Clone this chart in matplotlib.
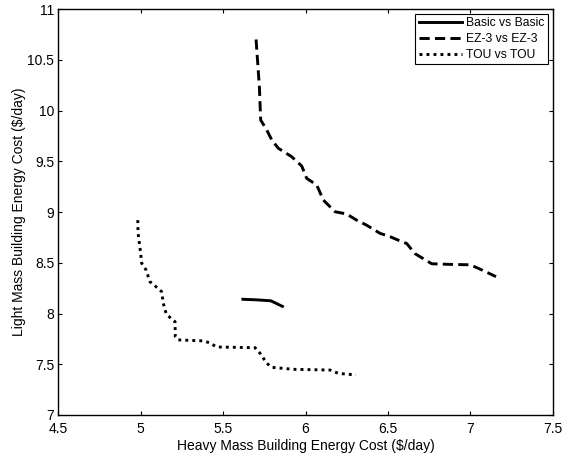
import matplotlib
matplotlib.use('Agg')
import matplotlib.pyplot as plt

plt.rcParams['font.family'] = ['Liberation Sans', 'DejaVu Sans']

# Basic vs Basic
basic_x = [5.62, 5.70, 5.79, 5.86]
basic_y = [8.14, 8.135, 8.125, 8.07]

# EZ-3 vs EZ-3
ez3_x = [5.70, 5.72, 5.728, 5.765, 5.795, 5.835, 5.916, 5.977, 6.007, 6.068,
         6.108, 6.179, 6.25, 6.31, 6.371, 6.452, 6.513, 6.595, 6.614, 6.664,
         6.766, 6.898, 6.998, 7.049, 7.156]
ez3_y = [10.70, 10.235, 9.906, 9.808, 9.71, 9.628, 9.545, 9.453, 9.332, 9.266,
         9.118, 9.003, 8.98, 8.92, 8.87, 8.79, 8.757, 8.70, 8.69, 8.59,
         8.49, 8.483, 8.48, 8.445, 8.363]

# TOU vs TOU
tou_x = [4.982, 4.984, 4.996, 5.006, 5.032, 5.056, 5.097, 5.127, 5.137, 5.154,
         5.184, 5.208, 5.21, 5.228, 5.38, 5.42, 5.46, 5.694, 5.724, 5.765,
         5.795, 5.926, 6.149, 6.20, 6.306]
tou_y = [8.92, 8.79, 8.642, 8.495, 8.43, 8.313, 8.258, 8.215, 8.10, 8.00,
         7.95, 7.92, 7.77, 7.74, 7.73, 7.71, 7.67, 7.663, 7.608, 7.51,
         7.47, 7.45, 7.443, 7.41, 7.394]

fig = plt.figure(figsize=(5.63, 4.58), dpi=100)
ax = fig.add_axes([0.1036, 0.0939, 0.8781, 0.8864])

lw = 2.1
ax.plot(basic_x, basic_y, color='black', linewidth=lw, linestyle='-',
        label='Basic vs Basic')
ax.plot(ez3_x, ez3_y, color='black', linewidth=lw, linestyle=(0, (3.5, 1.8)),
        dash_capstyle='butt', label='EZ-3 vs EZ-3')
ax.plot(tou_x, tou_y, color='black', linewidth=lw, linestyle=(0, (1.0, 1.4)),
        dash_capstyle='butt', label='TOU vs TOU')

ax.set_xlim(4.5, 7.5)
ax.set_ylim(7, 11)
ax.set_xticks([4.5, 5, 5.5, 6, 6.5, 7, 7.5])
ax.set_xticklabels(['4.5', '5', '5.5', '6', '6.5', '7', '7.5'])
ax.set_yticks([7, 7.5, 8, 8.5, 9, 9.5, 10, 10.5, 11])
ax.set_yticklabels(['7', '7.5', '8', '8.5', '9', '9.5', '10', '10.5', '11'])
ax.tick_params(direction='in', top=True, right=True, labelsize=10,
               length=3, width=0.8, pad=3)
ax.tick_params(axis='x', pad=5)
for s in ax.spines.values():
    s.set_linewidth(1.0)

ax.set_xlabel('Heavy Mass Building Energy Cost ($/day)', fontsize=10, labelpad=2)
ax.set_ylabel('Light Mass Building Energy Cost ($/day)', fontsize=10, labelpad=1)

leg = ax.legend(loc='upper right', fontsize=8.7, frameon=True, fancybox=False,
                edgecolor='black', framealpha=1, handlelength=3.6,
                handletextpad=0.3, borderpad=0.3, labelspacing=0.3,
                borderaxespad=0.4)
leg.get_frame().set_linewidth(0.8)

fig.savefig('out.png', dpi=100)
